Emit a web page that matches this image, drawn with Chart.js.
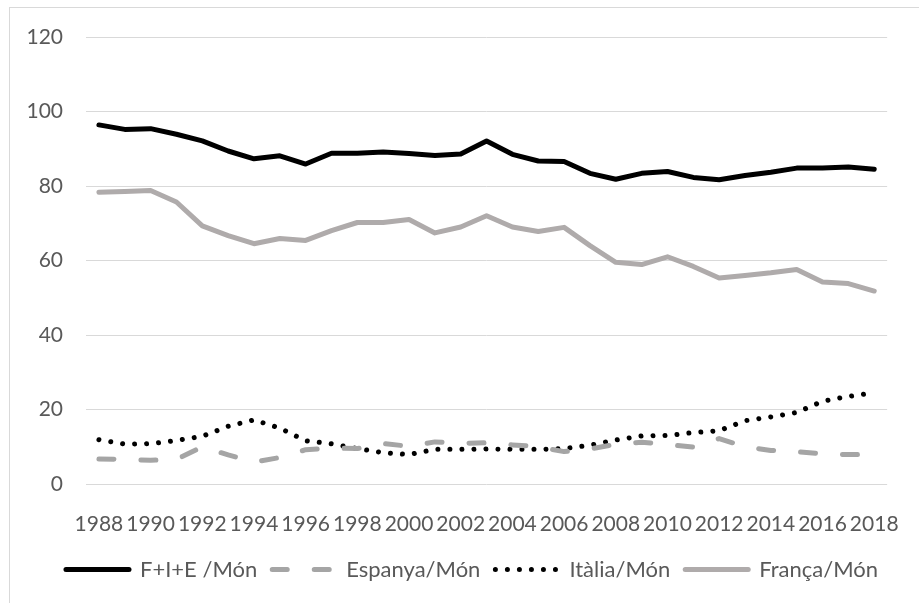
<!DOCTYPE html>
<html>
<head>
<meta charset="utf-8">
<script src="https://cdn.jsdelivr.net/npm/chart.js@4.4.1/dist/chart.umd.min.js"></script>
<style>
  html, body { margin: 0; padding: 0; background: #ffffff; }
  #wrap { position: relative; width: 919px; height: 603px; overflow: hidden; }
  #wrap canvas { position: absolute; left: 0; top: 0; }
  #frame { position: absolute; left: 9px; top: 7px; width: 1000px; height: 700px;
           border: 1px solid #d9d9d9; box-sizing: border-box; pointer-events: none; }
</style>
</head>
<body>
<div id="wrap">
  <canvas id="chart" width="919" height="603"></canvas>
  <div id="frame"></div>
</div>
<script>
// Years on the horizontal axis
const years = ['1988','1989','1990','1991','1992','1993','1994','1995','1996','1997',
               '1998','1999','2000','2001','2002','2003','2004','2005','2006','2007',
               '2008','2009','2010','2011','2012','2013','2014','2015','2016','2017','2018'];

// Shares of world total (%)
const fieMon = [96.4, 95.2, 95.4, 93.9, 92.1, 89.4, 87.3, 88.1, 85.9, 88.8,
                88.8, 89.1, 88.7, 88.2, 88.6, 92.1, 88.5, 86.7, 86.6, 83.4,
                81.8, 83.4, 83.9, 82.3, 81.7, 82.8, 83.7, 84.8, 84.8, 85.1, 84.5];
const espanyaMon = [6.7, 6.6, 6.4, 6.6, 10.0, 7.8, 5.9, 7.1, 9.2, 9.7,
                    9.5, 10.9, 10.1, 11.3, 10.9, 11.1, 10.5, 10.0, 8.7, 9.4,
                    10.7, 11.2, 10.6, 9.9, 12.2, 10.0, 9.0, 8.7, 8.1, 7.9, 8.0];
const italiaMon = [11.9, 10.7, 10.8, 11.7, 12.8, 15.5, 17.2, 15.0, 11.6, 10.8,
                   9.5, 8.4, 7.9, 9.3, 9.3, 9.4, 9.3, 9.3, 9.5, 10.4,
                   11.8, 12.9, 13.0, 13.8, 14.3, 17.0, 18.0, 19.2, 22.2, 23.5, 24.5];
const francaMon = [78.3, 78.5, 78.8, 75.7, 69.3, 66.7, 64.5, 65.9, 65.4, 68.0,
                   70.2, 70.2, 71.0, 67.4, 69.0, 72.0, 69.0, 67.8, 68.9, 64.0,
                   59.5, 58.9, 61.0, 58.4, 55.3, 56.0, 56.7, 57.6, 54.2, 53.8, 51.8];

// Y axis ticks
const yMin = 0, yMax = 120, yStep = 20;

const seriesLabels = ['F+I+E /Món', 'Espanya/Món', 'Itàlia/Món', 'França/Món'];

const textColor = '#595959';
const gridColor = '#d9d9d9';
const font = { family: 'Lato, "Liberation Sans", sans-serif', size: 21 };
const legendFont = { family: 'Lato, "Liberation Sans", sans-serif', size: 22 };
const lineWidth = 5;

new Chart(document.getElementById('chart'), {
  type: 'line',
  data: {
    labels: years,
    datasets: [
      { label: seriesLabels[0], data: fieMon, borderColor: '#000000', backgroundColor: '#000000' },
      { label: seriesLabels[1], data: espanyaMon, borderColor: '#a5a5a5', backgroundColor: '#a5a5a5',
        borderDash: [15, 27] },
      { label: seriesLabels[2], data: italiaMon, borderColor: '#000000', backgroundColor: '#000000',
        borderDash: [0.01, 12] },
      { label: seriesLabels[3], data: francaMon, borderColor: '#afabab', backgroundColor: '#afabab' }
    ]
  },
  options: {
    responsive: false,
    animation: false,
    devicePixelRatio: 1,
    layout: { autoPadding: false, padding: { left: 0, right: 26, top: 37, bottom: 12.5 } },
    elements: {
      point: { radius: 0, hoverRadius: 0 },
      line: { tension: 0, borderWidth: lineWidth, borderCapStyle: 'round', borderJoinStyle: 'round', fill: false }
    },
    plugins: {
      tooltip: { enabled: false },
      legend: {
        position: 'bottom',
        align: 'end',
        labels: {
          usePointStyle: true,
          pointStyle: 'line',
          pointStyleWidth: 63,
          boxHeight: 21,
          padding: 15,
          color: textColor,
          font: legendFont,
          // legend samples drawn with each series' own stroke and dash
          generateLabels: (chart) => chart.data.datasets.map((ds, i) => ({
            text: ds.label,
            datasetIndex: i,
            hidden: false,
            fillStyle: ds.borderColor,
            strokeStyle: ds.borderColor,
            fontColor: textColor,
            lineWidth: lineWidth,
            lineDash: ds.borderDash || [],
            lineDashOffset: 0,
            lineCap: 'round',
            lineJoin: 'round',
            pointStyle: 'line',
            rotation: 0
          }))
        }
      }
    },
    scales: {
      x: {
        offset: true,
        grid: { display: false },
        border: { display: false },
        ticks: {
          autoSkip: false,
          maxRotation: 0,
          minRotation: 0,
          padding: 20,
          color: textColor,
          font: font,
          callback: (v, i) => (i % 2 === 0 ? years[i] : '')
        },
        afterFit: (s) => { s.height = 59.5; }
      },
      y: {
        min: yMin,
        max: yMax,
        grid: { color: gridColor, lineWidth: 1, drawTicks: false },
        border: { display: false },
        ticks: { stepSize: yStep, padding: 23, color: textColor, font: font },
        afterFit: (s) => { s.width = 86; }
      }
    }
  }
});
</script>
</body>
</html>
